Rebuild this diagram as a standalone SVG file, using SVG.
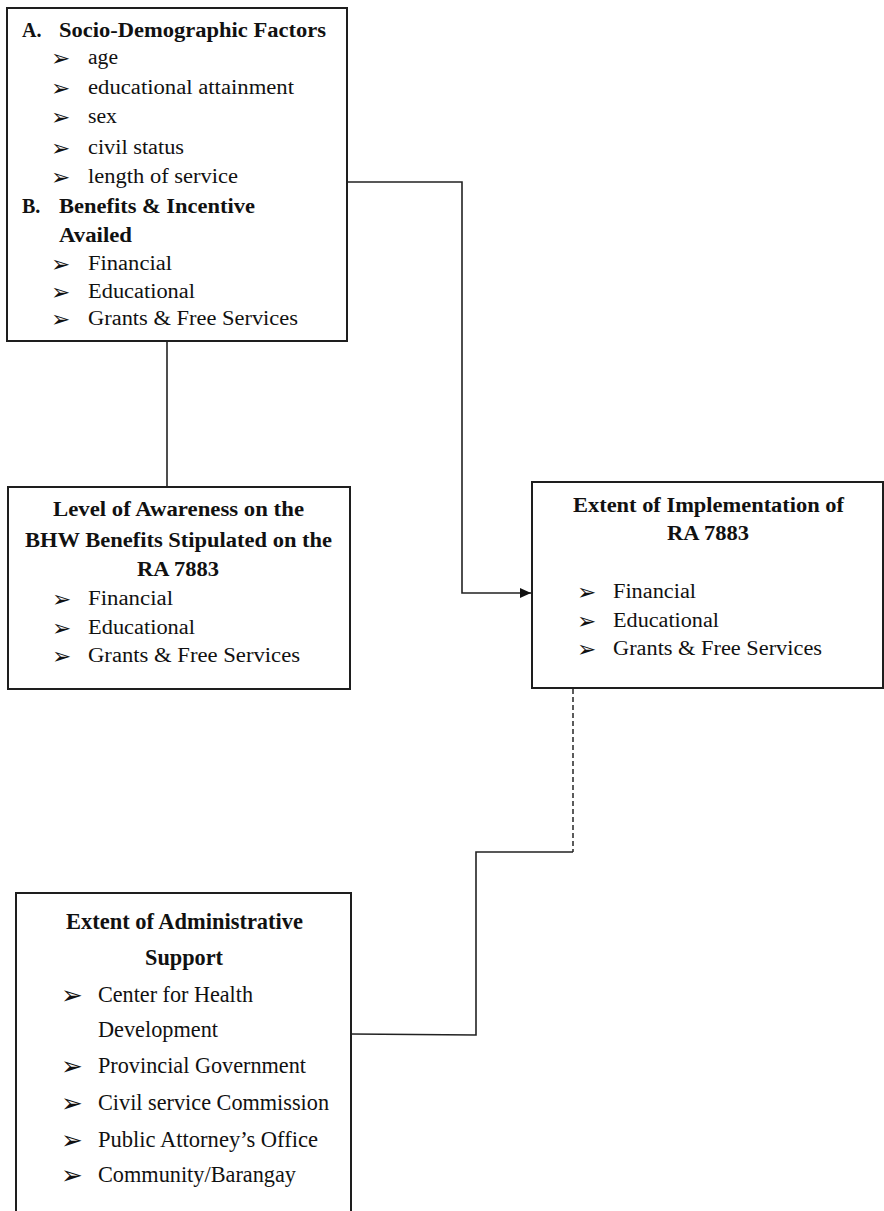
<svg xmlns="http://www.w3.org/2000/svg" width="884" height="1211" viewBox="0 0 884 1211">
<defs>
<style>
.box{fill:#fff;stroke:#1e1e1e;stroke-width:2}
.t{font-family:"Liberation Serif","Times New Roman",serif;font-size:20px;fill:#111}
.t4{font-family:"Liberation Serif","Times New Roman",serif;font-size:24px;fill:#111}
.b{font-weight:bold}
.bul{font-family:"DejaVu Sans",sans-serif;font-size:23px;fill:#111}
.bul4{font-family:"DejaVu Sans",sans-serif;font-size:26px;fill:#111}
.ln{fill:none;stroke:#222;stroke-width:1.6}
.dash{fill:none;stroke:#333;stroke-width:1.6;stroke-dasharray:5 3}
</style>
<marker id="arr" markerUnits="userSpaceOnUse" markerWidth="12" markerHeight="11" refX="11" refY="5" orient="auto">
<path d="M0,0 L11,5 L0,10 z" fill="#111"/>
</marker>
</defs>
<rect width="884" height="1211" fill="#fff"/>

<g id="connectors">
<polyline class="ln" points="347,182 462,182 462,593 531,593" marker-end="url(#arr)"/>
<line class="ln" x1="167" y1="341" x2="167" y2="487"/>
<line class="dash" x1="573" y1="689" x2="573" y2="852"/>
<polyline class="ln" points="573,852 476,852 476,1035 351,1034"/>
</g>

<g id="socio-demographic">
<rect class="box" x="7" y="8" width="340" height="333"/>
<text class="t b" x="22" y="37">A.</text>
<text class="t b" x="59" y="37" textLength="267" lengthAdjust="spacingAndGlyphs">Socio-Demographic Factors</text>
<text class="bul" x="51" y="66">➢</text>
<text class="t" x="88" y="64" textLength="30" lengthAdjust="spacingAndGlyphs">age</text>
<text class="bul" x="51" y="96">➢</text>
<text class="t" x="88" y="94" textLength="206" lengthAdjust="spacingAndGlyphs">educational attainment</text>
<text class="bul" x="51" y="125">➢</text>
<text class="t" x="88" y="123" textLength="29" lengthAdjust="spacingAndGlyphs">sex</text>
<text class="bul" x="51" y="156">➢</text>
<text class="t" x="88" y="154" textLength="96" lengthAdjust="spacingAndGlyphs">civil status</text>
<text class="bul" x="51" y="185">➢</text>
<text class="t" x="88" y="183" textLength="150" lengthAdjust="spacingAndGlyphs">length of service</text>
<text class="t b" x="22" y="213">B.</text>
<text class="t b" x="59" y="213" textLength="196" lengthAdjust="spacingAndGlyphs">Benefits &amp; Incentive</text>
<text class="t b" x="59" y="242" textLength="73" lengthAdjust="spacingAndGlyphs">Availed</text>
<text class="bul" x="51" y="272">➢</text>
<text class="t" x="88" y="270" textLength="84" lengthAdjust="spacingAndGlyphs">Financial</text>
<text class="bul" x="51" y="300">➢</text>
<text class="t" x="88" y="298" textLength="107" lengthAdjust="spacingAndGlyphs">Educational</text>
<text class="bul" x="51" y="327">➢</text>
<text class="t" x="88" y="325" textLength="210" lengthAdjust="spacingAndGlyphs">Grants &amp; Free Services</text>
</g>

<g id="awareness">
<rect class="box" x="8" y="487" width="342" height="202"/>
<text class="t b" x="53" y="516" textLength="251" lengthAdjust="spacingAndGlyphs">Level of Awareness on the</text>
<text class="t b" x="25" y="547" textLength="307" lengthAdjust="spacingAndGlyphs">BHW Benefits Stipulated on the</text>
<text class="t b" x="137" y="576" textLength="82" lengthAdjust="spacingAndGlyphs">RA 7883</text>
<text class="bul" x="52" y="607">➢</text>
<text class="t" x="88" y="605" textLength="85" lengthAdjust="spacingAndGlyphs">Financial</text>
<text class="bul" x="52" y="636">➢</text>
<text class="t" x="88" y="634" textLength="107" lengthAdjust="spacingAndGlyphs">Educational</text>
<text class="bul" x="52" y="664">➢</text>
<text class="t" x="88" y="662" textLength="212" lengthAdjust="spacingAndGlyphs">Grants &amp; Free Services</text>
</g>

<g id="implementation">
<rect class="box" x="532" y="482" width="351" height="206"/>
<text class="t b" x="573" y="512" textLength="271" lengthAdjust="spacingAndGlyphs">Extent of Implementation of</text>
<text class="t b" x="667" y="540" textLength="82" lengthAdjust="spacingAndGlyphs">RA 7883</text>
<text class="bul" x="577" y="600">➢</text>
<text class="t" x="613" y="598" textLength="83" lengthAdjust="spacingAndGlyphs">Financial</text>
<text class="bul" x="577" y="629">➢</text>
<text class="t" x="613" y="627" textLength="106" lengthAdjust="spacingAndGlyphs">Educational</text>
<text class="bul" x="577" y="657">➢</text>
<text class="t" x="613" y="655" textLength="209" lengthAdjust="spacingAndGlyphs">Grants &amp; Free Services</text>
</g>

<g id="administrative-support">
<rect class="box" x="16" y="893" width="335" height="340"/>
<text class="t4 b" x="66" y="929" textLength="237" lengthAdjust="spacingAndGlyphs">Extent of Administrative</text>
<text class="t4 b" x="145" y="965" textLength="78" lengthAdjust="spacingAndGlyphs">Support</text>
<text class="bul4" x="61" y="1004">➢</text>
<text class="t4" x="98" y="1002" textLength="155" lengthAdjust="spacingAndGlyphs">Center for Health</text>
<text class="t4" x="98" y="1037" textLength="120" lengthAdjust="spacingAndGlyphs">Development</text>
<text class="bul4" x="61" y="1075">➢</text>
<text class="t4" x="98" y="1073" textLength="208" lengthAdjust="spacingAndGlyphs">Provincial Government</text>
<text class="bul4" x="61" y="1112">➢</text>
<text class="t4" x="98" y="1110" textLength="231" lengthAdjust="spacingAndGlyphs">Civil service Commission</text>
<text class="bul4" x="61" y="1149">➢</text>
<text class="t4" x="98" y="1147" textLength="220" lengthAdjust="spacingAndGlyphs">Public Attorney’s Office</text>
<text class="bul4" x="61" y="1184">➢</text>
<text class="t4" x="98" y="1182" textLength="198" lengthAdjust="spacingAndGlyphs">Community/Barangay</text>
</g>
</svg>
